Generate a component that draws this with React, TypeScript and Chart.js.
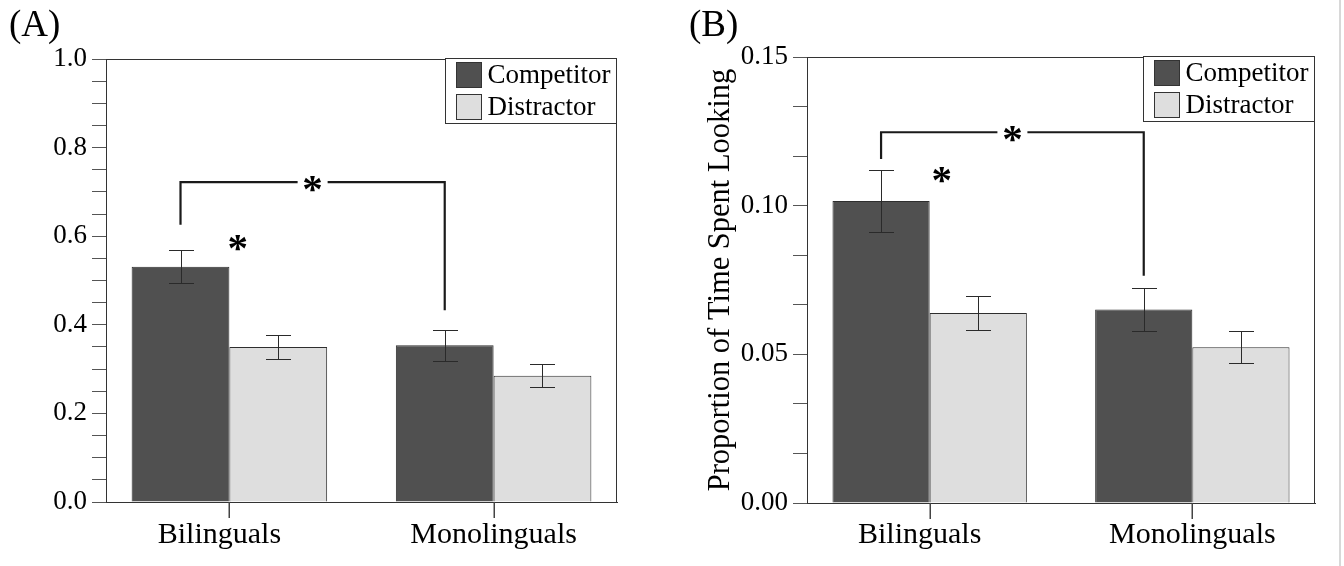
import React, { useEffect, useRef } from "react";
import { Chart, registerables } from "chart.js";

Chart.register(...registerables);

// ---------- data ----------
const categories = ["Bilinguals", "Monolinguals"];
const seriesNames = ["Competitor", "Distractor"];
const seriesColors = ["#505050", "#dedede"];

// Panel A
const competitorA = [0.531, 0.354];
const competitorErrA = [0.037, 0.035];
const distractorA = [0.35, 0.285];
const distractorErrA = [0.027, 0.026];
const yTicksA = [0, 0.05, 0.1, 0.15, 0.2, 0.25, 0.3, 0.35, 0.4, 0.45, 0.5, 0.55, 0.6, 0.65, 0.7, 0.75, 0.8, 0.85, 0.9, 0.95, 1.0];
const yLabelValuesA = [0, 0.2, 0.4, 0.6, 0.8, 1.0];
const yLabelTextsA = ["0.0", "0.2", "0.4", "0.6", "0.8", "1.0"];
const bracketA = { top: 0.722, leftFoot: 0.626, rightFoot: 0.433 };
const pairStarA = { x: 0.032, y: 0.589 };

// Panel B
const competitorB = [0.1016, 0.0651];
const competitorErrB = [0.0104, 0.0071];
const distractorB = [0.0639, 0.0524];
const distractorErrB = [0.0056, 0.0053];
const yTicksB = [0, 0.0166667, 0.0333333, 0.05, 0.0666667, 0.0833333, 0.1, 0.1166667, 0.1333333, 0.15];
const yLabelValuesB = [0, 0.05, 0.1, 0.15];
const yLabelTextsB = ["0.00", "0.05", "0.10", "0.15"];
const bracketB = { top: 0.1247, leftFoot: 0.1157, rightFoot: 0.0764 };
const pairStarB = { x: 0.046, y: 0.1108 };
const yTitleB = "Proportion of Time Spent Looking";

// ---------- styling ----------
const FONT = '"Liberation Serif", "Times New Roman", serif';
const TEXT = "#000";

type Spec = {
  panelLabel: string;
  left: number;
  width: number;
  height: number;
  area: { left: number; top: number; right: number; bottom: number };
  yMax: number;
  values: number[][];
  errors: number[][];
  yTicks: number[];
  yLabelValues: number[];
  yLabelTexts: string[];
  bracket: { top: number; leftFoot: number; rightFoot: number };
  pairStar: { x: number; y: number };
  yTitle?: string;
};

function overlayPlugin(s: Spec) {
  return {
    id: "overlay",
    afterDraw(chart: any) {
      const ctx: CanvasRenderingContext2D = chart.ctx;
      const xs = chart.scales.x;
      const ys = chart.scales.y;
      const ca = chart.chartArea;
      ctx.save();

      // error bars
      s.values.forEach((vals, di) => {
        const meta = chart.getDatasetMeta(di);
        meta.data.forEach((el: any, i: number) => {
          const v = vals[i];
          const e = s.errors[di][i];
          const x = Math.round(el.x) + 0.5;
          const yT = Math.round(ys.getPixelForValue(v + e)) + 0.5;
          const yB = Math.round(ys.getPixelForValue(v - e)) + 0.5;
          ctx.strokeStyle = "#2a2a2a";
          ctx.lineWidth = 1;
          ctx.beginPath();
          ctx.moveTo(x, yT);
          ctx.lineTo(x, yB);
          ctx.moveTo(x - 12.5, yT);
          ctx.lineTo(x + 12.5, yT);
          ctx.moveTo(x - 12.5, yB);
          ctx.lineTo(x + 12.5, yB);
          ctx.stroke();
        });
      });

      // bracket between competitor bars
      const m0 = chart.getDatasetMeta(0);
      const bx1 = m0.data[0].x;
      const bx2 = m0.data[1].x;
      const by = ys.getPixelForValue(s.bracket.top);
      const bl = ys.getPixelForValue(s.bracket.leftFoot);
      const br = ys.getPixelForValue(s.bracket.rightFoot);
      const mid = (bx1 + bx2) / 2;
      const gap = 15;
      ctx.strokeStyle = "#1a1a1a";
      ctx.lineWidth = 2.2;
      ctx.lineCap = "butt";
      ctx.beginPath();
      ctx.moveTo(bx1, bl);
      ctx.lineTo(bx1, by);
      ctx.lineTo(mid - gap, by);
      ctx.moveTo(mid + gap, by);
      ctx.lineTo(bx2, by);
      ctx.lineTo(bx2, br);
      ctx.stroke();

      // asterisks
      const starSize = 41;
      ctx.fillStyle = TEXT;
      ctx.font = `bold ${starSize}px ${FONT}`;
      ctx.textAlign = "center";
      ctx.textBaseline = "alphabetic";
      ctx.fillText("*", mid, by + 0.48 * starSize);
      const sx = xs.getPixelForValue(s.pairStar.x);
      const sy = ys.getPixelForValue(s.pairStar.y);
      ctx.fillText("*", sx, sy + 0.48 * starSize);

      // frame top & right
      ctx.strokeStyle = "#333";
      ctx.lineWidth = 1;
      ctx.beginPath();
      const t = Math.round(ca.top) + 0.5;
      const r = Math.round(ca.right) - 0.5;
      ctx.moveTo(ca.left, t);
      ctx.lineTo(r, t);
      ctx.lineTo(r, ca.bottom);
      ctx.stroke();

      // x-axis tick marks at category centres (below the axis)
      ctx.fillStyle = "#444";
      categories.forEach((_, i) => {
        const x = Math.round(xs.getPixelForValue(i));
        ctx.fillRect(x - 0.5, Math.round(ca.bottom), 1.5, 16);
      });

      // legend
      const lw = 171;
      const lh = 65;
      const lx = Math.round(ca.right) - lw - 0.5;
      const ly = Math.round(ca.top) - 0.5;
      ctx.fillStyle = "#fff";
      ctx.fillRect(lx, ly, lw, lh);
      ctx.strokeStyle = "#333";
      ctx.strokeRect(lx, ly, lw, lh);
      seriesNames.forEach((name, i) => {
        const sxl = lx + 11;
        const syl = ly + 4 + i * 32;
        ctx.fillStyle = seriesColors[i];
        ctx.fillRect(sxl, syl, 25, 25);
        ctx.strokeStyle = "#333";
        ctx.strokeRect(sxl, syl, 25, 25);
        ctx.fillStyle = TEXT;
        ctx.font = `27px ${FONT}`;
        ctx.textAlign = "left";
        ctx.textBaseline = "middle";
        ctx.fillText(name, sxl + 31, syl + 13);
      });

      // category labels
      ctx.fillStyle = TEXT;
      ctx.font = `30px ${FONT}`;
      ctx.textAlign = "center";
      ctx.textBaseline = "alphabetic";
      const nudge = [-10, 0];
      categories.forEach((c, i) => {
        ctx.fillText(c, xs.getPixelForValue(i) + nudge[i], 543);
      });

      // panel label
      ctx.font = `37px ${FONT}`;
      ctx.textAlign = "left";
      ctx.fillText(s.panelLabel, 9, 36);

      // y title
      if (s.yTitle) {
        ctx.save();
        ctx.translate(49, (ca.top + ca.bottom) / 2);
        ctx.rotate(-Math.PI / 2);
        ctx.font = `30.5px ${FONT}`;
        ctx.textAlign = "center";
        ctx.textBaseline = "alphabetic";
        ctx.fillText(s.yTitle, 0, 0);
        ctx.restore();
      }

      ctx.restore();
    },
  };
}

function buildConfig(s: Spec): any {
  const A = s.area;
  return {
    type: "bar",
    data: {
      datasets: seriesNames.map((name, di) => ({
        label: name,
        data: s.values[di].map((v, i) => ({ x: i, y: v })),
        backgroundColor: seriesColors[di],
        borderColor: "#2e2e2e",
        borderWidth: 1,
        categoryPercentage: 0.74,
        barPercentage: 1,
      })),
    },
    options: {
      animation: false,
      responsive: false,
      maintainAspectRatio: false,
      events: [],
      layout: { padding: { left: 0, top: A.top, right: s.width - A.right, bottom: 0 } },
      plugins: { legend: { display: false }, tooltip: { enabled: false }, title: { display: false } },
      scales: {
        x: {
          type: "linear",
          min: -0.467,
          max: 1.467,
          bounds: "data",
          offset: false,
          afterBuildTicks: (sc: any) => {
            sc.ticks = categories.map((_, i) => ({ value: i }));
          },
          afterFit: (sc: any) => {
            sc.height = s.height - A.bottom;
          },
          ticks: { display: false },
          grid: { display: false },
          border: { display: true, color: "#333", width: 1 },
        },
        y: {
          type: "linear",
          min: 0,
          max: s.yMax,
          afterBuildTicks: (sc: any) => {
            sc.ticks = s.yTicks.map((v) => ({ value: v }));
          },
          afterFit: (sc: any) => {
            sc.width = A.left;
          },
          ticks: {
            autoSkip: false,
            padding: 5,
            color: TEXT,
            font: { family: FONT, size: 27 },
            callback: (value: number) => {
              const k = s.yLabelValues.findIndex((l) => Math.abs(l - value) < 1e-6);
              return k >= 0 ? s.yLabelTexts[k] : "";
            },
          },
          grid: { display: true, offset: false, drawOnChartArea: false, drawTicks: true, tickLength: 14, color: "#555", lineWidth: 1 },
          border: { display: true, color: "#333", width: 1 },
        },
      },
    },
    plugins: [overlayPlugin(s)],
  };
}

function Panel({ spec }: { spec: Spec }) {
  const ref = useRef<HTMLCanvasElement>(null);
  useEffect(() => {
    const canvas = ref.current;
    if (!canvas) return;
    const chart = new Chart(canvas, buildConfig(spec));
    return () => chart.destroy();
  }, []);
  return (
    <canvas
      ref={ref}
      width={spec.width}
      height={spec.height}
      style={{ position: "absolute", left: spec.left, top: 0, width: spec.width, height: spec.height }}
    />
  );
}

const specA: Spec = {
  panelLabel: "(A)",
  left: 0,
  width: 680,
  height: 566,
  area: { left: 106, top: 59, right: 617, bottom: 502 },
  yMax: 1.0,
  values: [competitorA, distractorA],
  errors: [competitorErrA, distractorErrA],
  yTicks: yTicksA,
  yLabelValues: yLabelValuesA,
  yLabelTexts: yLabelTextsA,
  bracket: bracketA,
  pairStar: pairStarA,
};

const specB: Spec = {
  panelLabel: "(B)",
  left: 680,
  width: 664,
  height: 566,
  area: { left: 127, top: 57, right: 635, bottom: 503 },
  yMax: 0.15,
  values: [competitorB, distractorB],
  errors: [competitorErrB, distractorErrB],
  yTicks: yTicksB,
  yLabelValues: yLabelValuesB,
  yLabelTexts: yLabelTextsB,
  bracket: bracketB,
  pairStar: pairStarB,
  yTitle: yTitleB,
};

export default function App() {
  return (
    <div style={{ position: "fixed", left: 0, top: 0, width: 1344, height: 566, background: "#fff", overflow: "hidden" }}>
      <Panel spec={specA} />
      <Panel spec={specB} />
      <div style={{ position: "absolute", left: 1339, top: 0, width: 2, height: 566, background: "#d8d8d8" }} />
    </div>
  );
}
